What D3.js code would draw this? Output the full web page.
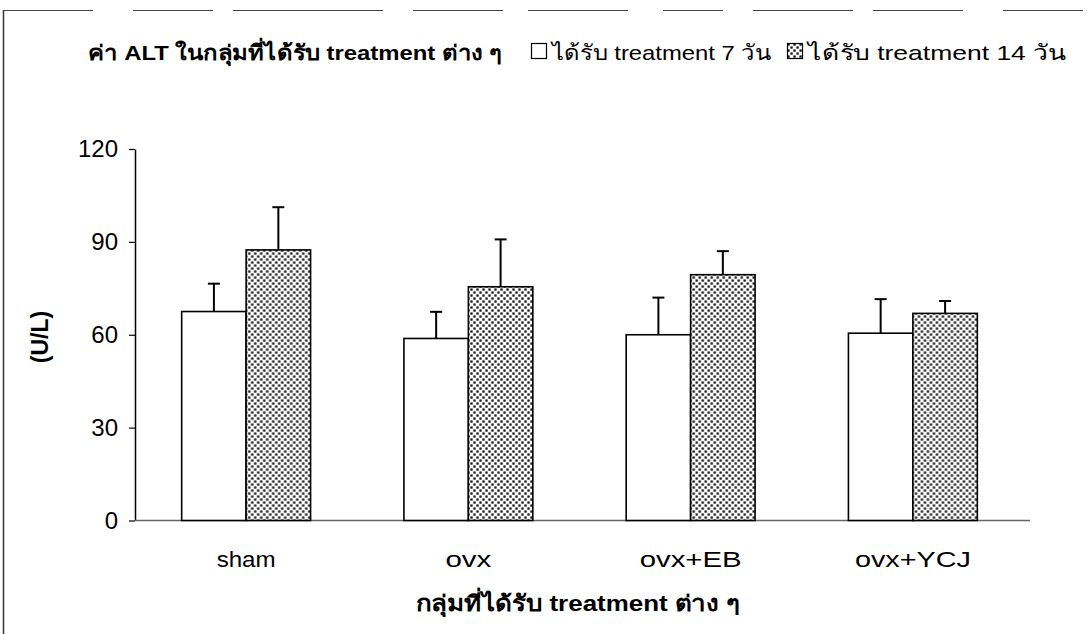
<!DOCTYPE html>
<html>
<head>
<meta charset="utf-8">
<script src="https://cdn.jsdelivr.net/npm/d3@7"></script>
<style>
  html, body { margin: 0; padding: 0; background: #fff; }
  svg { display: block; }
  text { font-family: "Liberation Sans", Arial, "Noto Sans", sans-serif; fill: #000; }
</style>
</head>
<body>
<svg id="chart" width="1087" height="634"></svg>
<script>
// ALT values by treatment group and duration (mean, upper error bar length)
const groups = ["sham", "ovx", "ovx+EB", "ovx+YCJ"];
const seriesNames = ["ได้รับ treatment 7 วัน", "ได้รับ treatment 14 วัน"];
const mean7 = [67.5, 58.8, 60.0, 60.5];
const err7 = [9.0, 8.6, 12.0, 11.0];
const mean14 = [87.4, 75.5, 79.4, 66.9];
const err14 = [13.8, 15.3, 7.6, 4.0];
const yTicks = [0, 30, 60, 90, 120];
const chartTitle = "ค่า ALT ในกลุ่มที่ได้รับ treatment ต่าง ๆ";
const xTitle = "กลุ่มที่ได้รับ treatment ต่าง ๆ";
const yTitle = "(U/L)";

const rows = groups.map((g, i) => ({
  group: g,
  values: [
    { key: 0, mean: mean7[i], err: err7[i] },
    { key: 1, mean: mean14[i], err: err14[i] }
  ]
}));

const svg = d3.select("#chart");
const plotLeft = 135, plotRight = 1024, plotTop = 149, plotBottom = 520.5;

// dotted fill for the 14-day series
const defs = svg.append("defs");
const pat = defs.append("pattern")
  .attr("id", "dots").attr("patternUnits", "userSpaceOnUse")
  .attr("width", 6).attr("height", 6);
pat.append("rect").attr("width", 6).attr("height", 6).attr("fill", "#fff");
pat.append("rect").attr("x", 0.4).attr("y", 0.4).attr("width", 2.3).attr("height", 2.3).attr("fill", "#111");
pat.append("rect").attr("x", 3.4).attr("y", 3.4).attr("width", 2.3).attr("height", 2.3).attr("fill", "#111");

const fills = ["#fff", "url(#dots)"];

// page frame
svg.append("line").attr("x1", 3.5).attr("y1", 10).attr("x2", 3.5).attr("y2", 634)
  .attr("stroke", "#333").attr("stroke-width", 1.5);
svg.append("line").attr("x1", 3).attr("y1", 10.5).attr("x2", 1087).attr("y2", 10.5)
  .attr("stroke", "#444").attr("stroke-width", 1.2)
  .attr("stroke-dasharray", "90 40 80 20 150 30 90 25 100 35 60 30 100 20");

const x0 = d3.scaleBand().domain(groups).range([plotLeft, plotRight])
  .paddingInner(0.42).paddingOuter(0.21);
const x1 = d3.scaleBand().domain([0, 1]).range([0, x0.bandwidth()]);
const y = d3.scaleLinear().domain([0, 120]).range([plotBottom, plotTop]);

// y axis
const yAxis = svg.append("g").attr("transform", `translate(${plotLeft},0)`)
  .call(d3.axisLeft(y).tickValues(yTicks).tickSize(6).tickPadding(11).tickSizeOuter(0));
yAxis.select(".domain").attr("stroke", "#000").attr("stroke-width", 1.5);
yAxis.selectAll(".tick line").attr("stroke", "#000").attr("stroke-width", 1.2);
yAxis.selectAll(".tick text").attr("font-size", 24)
  .style("font-family", "'Liberation Sans', Arial, sans-serif").attr("fill", "#000");

// x baseline
svg.append("line").attr("x1", plotLeft).attr("x2", 1030).attr("y1", plotBottom).attr("y2", plotBottom)
  .attr("stroke", "#666").attr("stroke-width", 1.5);

// bars
const gGroups = svg.selectAll(".grp").data(rows).join("g")
  .attr("class", "grp")
  .attr("transform", d => `translate(${x0(d.group)},0)`);

gGroups.selectAll("line.err").data(d => d.values).join("line")
  .attr("class", "err")
  .attr("x1", d => x1(d.key) + x1.bandwidth() / 2)
  .attr("x2", d => x1(d.key) + x1.bandwidth() / 2)
  .attr("y1", d => y(d.mean))
  .attr("y2", d => y(d.mean + d.err))
  .attr("stroke", "#000").attr("stroke-width", 2);
gGroups.selectAll("line.cap").data(d => d.values).join("line")
  .attr("class", "cap")
  .attr("x1", d => x1(d.key) + x1.bandwidth() / 2 - 6)
  .attr("x2", d => x1(d.key) + x1.bandwidth() / 2 + 6)
  .attr("y1", d => y(d.mean + d.err))
  .attr("y2", d => y(d.mean + d.err))
  .attr("stroke", "#000").attr("stroke-width", 2);

gGroups.selectAll("rect").data(d => d.values).join("rect")
  .attr("x", d => x1(d.key))
  .attr("width", x1.bandwidth())
  .attr("y", d => y(d.mean))
  .attr("height", d => plotBottom - y(d.mean))
  .attr("fill", d => fills[d.key])
  .attr("stroke", "#000").attr("stroke-width", 1.6);

// category labels
const catWidths = [59, 46, 102, 116];
svg.selectAll(".cat").data(groups).join("text")
  .attr("class", "cat")
  .attr("x", d => x0(d) + x0.bandwidth() / 2)
  .attr("y", 567)
  .attr("text-anchor", "middle").attr("font-size", 22)
  .attr("textLength", (d, i) => catWidths[i]).attr("lengthAdjust", "spacingAndGlyphs")
  .text(d => d);

// axis titles
svg.append("text").attr("x", 416).attr("y", 611)
  .attr("font-size", 22).attr("font-weight", "bold")
  .attr("textLength", 324).attr("lengthAdjust", "spacingAndGlyphs")
  .text(xTitle);
svg.append("text")
  .attr("transform", "translate(48,337) rotate(-90)")
  .attr("text-anchor", "middle").attr("font-size", 23).attr("font-weight", "bold")
  .text(yTitle);

// title and legend row
svg.append("text").attr("x", 88).attr("y", 60)
  .attr("font-size", 21).attr("font-weight", "bold")
  .attr("textLength", 414).attr("lengthAdjust", "spacingAndGlyphs")
  .text(chartTitle);

const legendX = [531, 787];
const legendW = [219, 258];
const legend = svg.selectAll(".leg").data(seriesNames).join("g")
  .attr("class", "leg")
  .attr("transform", (d, i) => `translate(${legendX[i]},43)`);
legend.append("rect").attr("x", 0.5).attr("y", 0.5).attr("width", 15).attr("height", 15)
  .attr("fill", (d, i) => fills[i]).attr("stroke", "#000").attr("stroke-width", 1.2);
legend.append("text").attr("x", 21).attr("y", 17).attr("font-size", 21)
  .attr("textLength", (d, i) => legendW[i]).attr("lengthAdjust", "spacingAndGlyphs")
  .text(d => d);
</script>
</body>
</html>
